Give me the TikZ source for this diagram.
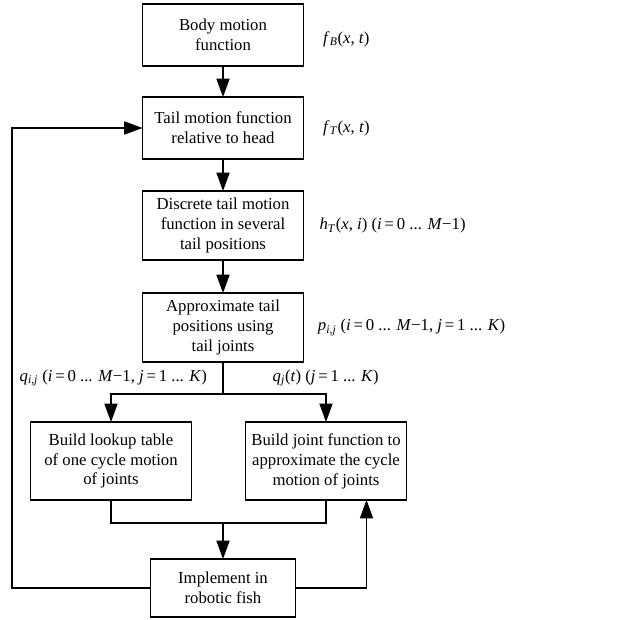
\documentclass[tikz,border=0pt]{standalone}
\usepackage{fontspec}
\setmainfont{Liberation Serif}
\usetikzlibrary{arrows.meta,positioning,calc}
\newcommand{\vi}[1]{\textit{#1}}
\newcommand{\sbi}[1]{\textsubscript{\textit{#1}}}
\tikzset{
  flowbox/.style={draw=black, line width=0.75pt, align=center, inner sep=1pt,
    outer sep=0pt, minimum width=4.025cm, minimum height=1.55cm,
    font=\fontsize{11.9}{14.2}\selectfont},
  notetext/.style={inner sep=1pt, font=\fontsize{11.9}{14.2}\selectfont},
  arc/.style={-{Triangle[length=4.6mm, width=3.3mm]}, line width=0.75pt},
  link/.style={line width=0.75pt},
}

\begin{document}
\begin{tikzpicture}[node distance=7.75mm]
    \useasboundingbox (0,0) rectangle (15.625,-15.475);
    \node[flowbox] (body) at (5.575,-0.875) {Body motion\\function};
    \node[flowbox, below=of body] (tail) {Tail motion function\\relative to head};
    \node[flowbox, below=8mm of tail, minimum height=1.725cm] (disc) {Discrete tail motion\\function in several\\tail positions};
    \node[flowbox, below=8.25mm of disc, minimum height=1.725cm] (appr) {Approximate tail\\positions using\\tail joints};
    \node[flowbox, below left=1.5cm and -1.225cm of appr, minimum height=1.95cm] (lookup) {Build lookup table\\of one cycle motion\\of joints};
    \node[flowbox, below right=1.5cm and -1.45cm of appr, minimum height=1.95cm] (jfun) {Build joint function to\\approximate the cycle\\motion of joints};
    \node[flowbox, anchor=north, minimum width=3.625cm, minimum height=1.45cm] (impl)
      at ($(appr.south |- lookup.south)+(0,-1.475)$) {Implement in\\robotic fish};
    % formulas beside the boxes
    \node[notetext, right=4.5mm of body, yshift=-1mm] (fB) {\vi{f}\sbi{B}(\vi{x}, \vi{t})};
    \node[notetext, right=4.5mm of tail] (fT) {\vi{f}\sbi{T}(\vi{x}, \vi{t})};
    \node[notetext, right=3.6mm of disc] (hT) {\vi{h}\sbi{T}(\vi{x}, \vi{i}) (\vi{i}\,=\,0 ... \vi{M}−1)};
    \node[notetext, right=3.2mm of appr] (pij) {\vi{p}\sbi{i,j} (\vi{i}\,=\,0 ... \vi{M}−1, \vi{j}\,=\,1 ... \vi{K})};
    % split and merge points
    \coordinate (split) at ($(appr.south)+(0,-0.8)$);
    \coordinate (merge) at ($(appr.south |- lookup.south)+(0,-0.575)$);
    \coordinate (fb) at (0.3,0);
    \coordinate (ret) at ($(jfun.south)+(1.0125,0)$);
    \node[notetext, above left=1.5mm and 3.6mm of split] (qij) {\vi{q}\sbi{i,j} (\vi{i}\,=\,0 ... \vi{M}−1, \vi{j}\,=\,1 ... \vi{K})};
    \node[notetext, above right=1.5mm and 12mm of split] (qj) {\vi{q}\sbi{j}(\vi{t}) (\vi{j}\,=\,1 ... \vi{K})};
    \draw[arc] (body) -- (tail);
    \draw[arc] (tail) -- (disc);
    \draw[arc] (disc) -- (appr);
    \draw[link] (appr.south) -- (split);
    \draw[arc] (split) -| (lookup.north);
    \draw[arc] (split) -| (jfun.north);
    \draw[link] (lookup.south) |- (merge) -| (jfun.south);
    \draw[arc] (merge) -- (impl.north);
    \draw[arc] (impl.west) -- (impl.west -| fb) |- (tail.west);
    \draw[arc] (impl.east) -| (ret);
  \end{tikzpicture}
\end{document}
